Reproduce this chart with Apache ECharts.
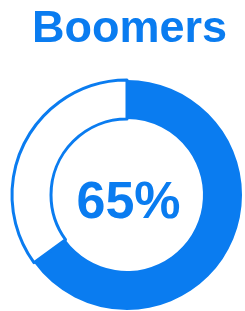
<!DOCTYPE html>
<html>
<head>
<meta charset="utf-8">
<script src="https://cdn.jsdelivr.net/npm/echarts@6/dist/echarts.min.js"></script>
<style>
  html, body { margin: 0; padding: 0; background: #fff; }
  #chart { width: 245px; height: 311px; }
</style>
</head>
<body>
<div id="chart"></div>
<script>
const heading = "Boomers"
const names = ["Boomers", "Other"]
const values = [65, 35]
const blue = "#0a7cf0"
const font = "Liberation Sans, Arial, sans-serif"

const chart = echarts.init(document.getElementById("chart"))
chart.setOption({
    animation: false,
    graphic: [
        {
            type: "text",
            x: 129.5,
            y: 30,
            style: {
                text: heading,
                fill: blue,
                font: "bold 45px " + font,
                align: "center",
                verticalAlign: "middle"
            }
        },
        {
            type: "text",
            x: 128.5,
            y: 204,
            style: {
                text: values[0] + "%",
                fill: blue,
                font: "bold 52px " + font,
                align: "center",
                verticalAlign: "middle"
            }
        }
    ],
    series: [
        {
            type: "pie",
            center: [127, 195],
            radius: [76, 115],
            startAngle: 90,
            clockwise: true,
            silent: true,
            label: { show: false },
            labelLine: { show: false },
            data: [
                { name: names[0], value: values[0], itemStyle: { color: blue } },
                {
                    name: names[1], value: values[1],
                    itemStyle: { color: "#ffffff", borderColor: blue, borderWidth: 3 }
                }
            ]
        }
    ]
})
</script>
</body>
</html>
